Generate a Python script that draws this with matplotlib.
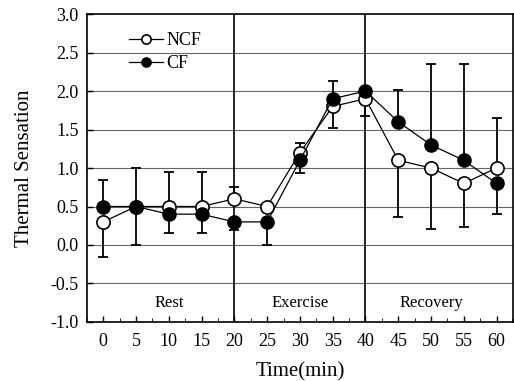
import numpy as np
import matplotlib
matplotlib.use("Agg")
import matplotlib.pyplot as plt
from matplotlib.ticker import MultipleLocator

plt.rcParams['font.family'] = ['Liberation Serif', 'DejaVu Serif']

time = [0, 5, 10, 15, 20, 25, 30, 35, 40, 45, 50, 55, 60]
ncf = [0.3, 0.5, 0.5, 0.5, 0.6, 0.5, 1.2, 1.8, 1.9, 1.1, 1.0, 0.8, 1.0]
cf = [0.5, 0.5, 0.4, 0.4, 0.3, 0.3, 1.1, 1.9, 2.0, 1.6, 1.3, 1.1, 0.8]

# one-sided error bars as drawn in the figure
ncf_up = [0, 0, 0.45, 0.45, 0.15, 0, 0.12, 0, 0, 0, 0, 0, 0.65]
ncf_dn = [0.45, 0, 0, 0, 0, 0, 0, 0.28, 0.22, 0.74, 0.79, 0.57, 0]
cf_up = [0.35, 0.5, 0, 0, 0, 0, 0, 0.23, 0, 0.42, 1.05, 1.25, 0]
cf_dn = [0, 0.5, 0.25, 0.25, 0.1, 0.3, 0.17, 0, 0, 0, 0, 0, 0.4]

phases = ["Rest", "Exercise", "Recovery"]
phase_mid = [10, 30, 50]
phase_bounds = [20, 40]

fig = plt.figure(figsize=(5.14, 3.81), dpi=100)
ax = fig.add_axes([0.169, 0.155, 0.829, 0.808])

for yy in np.arange(-0.5, 3.0, 0.5):
    ax.axhline(yy, color='#666666', lw=0.8, zorder=0)
for xb in phase_bounds:
    ax.axvline(xb, color='black', lw=1.2, zorder=1)

ax.errorbar(time, ncf, yerr=[ncf_dn, ncf_up], fmt='none', ecolor='black',
            elinewidth=1.3, capsize=3.5, capthick=1.3, zorder=2)
ax.errorbar(time, cf, yerr=[cf_dn, cf_up], fmt='none', ecolor='black',
            elinewidth=1.3, capsize=3.5, capthick=1.3, zorder=2)

ax.plot(time, ncf, '-o', color='black', lw=0.9, markersize=9.5,
        markerfacecolor='white', markeredgecolor='black', markeredgewidth=1.2,
        label='NCF', zorder=3)
ax.plot(time, cf, '-o', color='black', lw=0.9, markersize=9.5,
        markerfacecolor='black', markeredgecolor='black',
        label='CF', zorder=4)

for name, xm in zip(phases, phase_mid):
    ax.text(xm, -0.75, name, ha='center', va='center', fontsize=12)

ax.set_xlim(-2.5, 62.5)
ax.set_ylim(-1.0, 3.0)
ax.set_xticks(time)
ax.xaxis.set_minor_locator(MultipleLocator(2.5))
ax.set_yticks(np.arange(-1.0, 3.01, 0.5))
ax.set_yticklabels([f"{v:.1f}" for v in np.arange(-1.0, 3.01, 0.5)])
ax.tick_params(direction='in', labelsize=13, length=4, width=1, top=False, right=False)
ax.tick_params(which='minor', direction='in', length=3, top=False)
ax.tick_params(axis='x', pad=8)
ax.tick_params(axis='y', pad=6)

ax.set_xlabel("Time(min)", fontsize=15, labelpad=9)
ax.set_ylabel("Thermal Sensation", fontsize=15, labelpad=12)

ax.legend(loc='upper left', bbox_to_anchor=(0.06, 0.995), frameon=False,
          fontsize=13, handlelength=1.9, handletextpad=0.2, labelspacing=0.35,
          markerscale=0.7)

for s in ax.spines.values():
    s.set_linewidth(1.2)

plt.savefig("out.png", dpi=100)
